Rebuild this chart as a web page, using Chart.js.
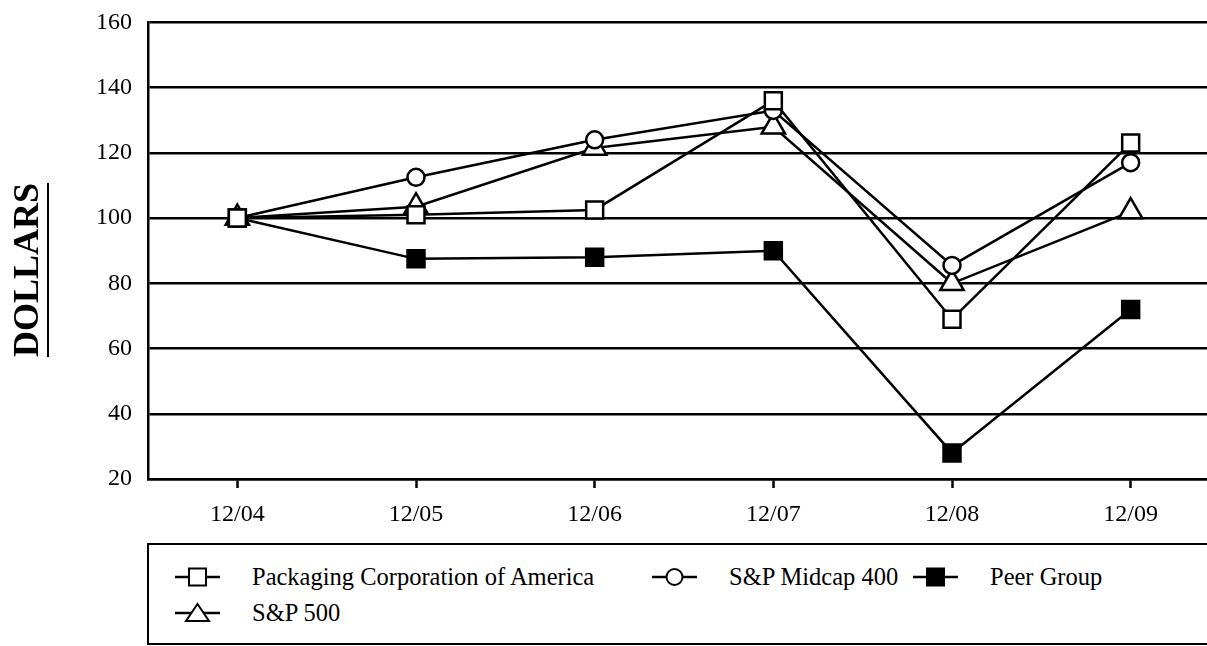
<!DOCTYPE html>
<html>
<head>
<meta charset="utf-8">
<script src="https://cdn.jsdelivr.net/npm/chart.js@4/dist/chart.umd.min.js"></script>
<style>
  body { margin: 0; background: #fff; overflow: hidden; width: 1207px; height: 646px; position: relative;
         font-family: "Liberation Serif", "Times New Roman", serif; color: #000; }
  #chart { position: absolute; left: 0; top: -8px; }
  #ytitle { position: absolute; left: -74px; top: 250px; width: 200px; height: 40px; line-height: 40px;
            text-align: center; font-weight: bold; font-size: 36px; transform: rotate(-90deg);
            text-decoration: underline; text-decoration-thickness: 2px; text-underline-offset: 9px; }
  #legend { position: absolute; left: 147px; top: 543px; width: 1100px; height: 98px; border: 2px solid #000; }
  .item { position: absolute; height: 30px; display: flex; align-items: center; font-size: 24.5px; white-space: nowrap; }
  .item svg { margin-right: 32px; }
</style>
</head>
<body>
<canvas id="chart" width="1236" height="549"></canvas>
<div id="ytitle">DOLLARS</div>
<div id="legend"></div>
<script>
const years = ['12/04', '12/05', '12/06', '12/07', '12/08', '12/09'];
const pca    = [100, 101, 102.5, 136, 69, 123];
const midcap = [100, 112.5, 124, 133, 85.5, 117];
const sp500  = [100, 103.5, 121.5, 128, 80, 102];
const peer   = [100, 87.5, 88, 90, 28, 72];
const yMin = 20, yMax = 160, yStep = 20;

const font = { family: '"Liberation Serif", "Times New Roman", serif', size: 24 };

const series = [
  { label: 'Packaging Corporation of America', data: pca, style: 'rect', r: 12, fill: '#fff' },
  { label: 'S&P Midcap 400', data: midcap, style: 'circle', r: 8.5, fill: '#fff' },
  { label: 'Peer Group', data: peer, style: 'rect', r: 12, fill: '#000' },
  { label: 'S&P 500', data: sp500, style: 'triangle', r: 13.5, fill: '#fff' }
];

// legend slot positions inside the box (left of symbol, vertical centre)
const slots = [[26, 32], [503, 32], [764, 32], [26, 68]];

new Chart(document.getElementById('chart'), {
  type: 'line',
  data: {
    labels: years,
    datasets: series.map(s => ({
      label: s.label,
      data: s.data,
      borderColor: '#000',
      borderWidth: 2.5,
      tension: 0,
      pointStyle: s.style,
      pointRadius: s.r,
      pointBorderWidth: 2.5,
      pointBorderColor: '#000',
      pointBackgroundColor: s.fill
    }))
  },
  options: {
    responsive: false,
    animation: false,
    layout: { padding: { top: 14, right: 0, left: 0, bottom: 0 } },
    plugins: { legend: { display: false }, tooltip: { enabled: false } },
    scales: {
      x: {
        offset: true,
        grid: { offset: false, drawOnChartArea: false, drawTicks: true, tickLength: 9, tickWidth: 2.5, tickColor: '#000' },
        border: { color: '#000', width: 2.5 },
        ticks: { font: font, color: '#000', padding: 12 },
        afterFit: s => { s.height = 62; }
      },
      y: {
        min: yMin,
        max: yMax,
        ticks: { stepSize: yStep, font: font, color: '#000', padding: 16 },
        grid: { color: '#000', lineWidth: 2.5, drawTicks: false },
        border: { color: '#000', width: 2.5 },
        afterFit: s => { s.width = 148; }
      }
    }
  }
});

function marker(s) {
  let m = '';
  if (s.style === 'rect') m = `<rect x="14" y="6.5" width="17" height="17" fill="${s.fill}" stroke="#000" stroke-width="2"/>`;
  if (s.style === 'circle') m = `<circle cx="22.5" cy="15" r="8" fill="${s.fill}" stroke="#000" stroke-width="2"/>`;
  if (s.style === 'triangle') m = `<polygon points="22.5,6 34,23 11,23" fill="${s.fill}" stroke="#000" stroke-width="2"/>`;
  return `<svg width="45" height="30" viewBox="0 0 45 30"><line x1="0" y1="15" x2="45" y2="15" stroke="#000" stroke-width="2.5"/>${m}</svg>`;
}

const legend = document.getElementById('legend');
series.forEach((s, i) => {
  const d = document.createElement('div');
  d.className = 'item';
  d.style.left = slots[i][0] + 'px';
  d.style.top = (slots[i][1] - 15) + 'px';
  d.innerHTML = marker(s) + '<span>' + s.label + '</span>';
  legend.appendChild(d);
});
</script>
</body>
</html>
